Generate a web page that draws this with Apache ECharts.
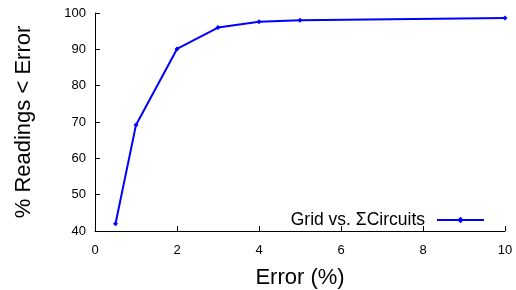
<!DOCTYPE html>
<html>
    <head>
        <meta charset="utf-8">
        <script src="https://cdn.jsdelivr.net/npm/echarts@6/dist/echarts.min.js"></script>
        <style type="text/css">
            #main {height:290px;width:516px;position:absolute;}
            body {margin:0px;padding:0px;overflow:hidden;background:#fff;}
        </style>
    </head>
    <body>
        <div id="main"></div>
        <script type="text/javascript">
            // data
            let errorPct = [0.5, 1, 2, 3, 4, 5, 10];
            let readingsPct = [42, 69.2, 90.1, 96, 97.6, 98, 98.6];
            let seriesName = 'Grid vs. \u03a3Circuits';

            let myChart = echarts.init(document.getElementById('main'));
            let font = 'Liberation Sans, Arial, Helvetica, sans-serif';

            let option = {
                animation: false,
                grid: {left: 95, right: 11, top: 13, bottom: 59, outerBoundsMode: 'none'},
                legend: {
                    data: [seriesName],
                    right: 26,
                    top: 206,
                    align: 'right',
                    itemWidth: 47,
                    itemHeight: 8,
                    itemGap: 10,
                    textStyle: {fontFamily: font, fontSize: 17.5, color: '#000', padding: [0, 7, 0, 0]}
                },
                xAxis: {
                    type: 'value',
                    min: 0,
                    max: 10,
                    interval: 2,
                    name: 'Error (%)',
                    nameLocation: 'center',
                    nameGap: 36,
                    nameTextStyle: {fontFamily: font, fontSize: 22, color: '#000'},
                    axisLine: {lineStyle: {color: '#000', width: 1}},
                    axisTick: {inside: true, length: 5, lineStyle: {color: '#000'}},
                    axisLabel: {fontFamily: font, fontSize: 13, color: '#000', margin: 13},
                    splitLine: {show: false}
                },
                yAxis: {
                    type: 'value',
                    min: 40,
                    max: 100,
                    interval: 10,
                    name: '% Readings < Error',
                    nameLocation: 'center',
                    nameGap: 60,
                    nameTextStyle: {fontFamily: font, fontSize: 22, color: '#000'},
                    axisLine: {show: true, lineStyle: {color: '#000', width: 1}},
                    axisTick: {show: true, inside: true, length: 5, lineStyle: {color: '#000'}},
                    axisLabel: {fontFamily: font, fontSize: 13, color: '#000', margin: 9},
                    splitLine: {show: false}
                },
                series: [{
                    name: seriesName,
                    type: 'line',
                    data: errorPct.map((x, i) => [x, readingsPct[i]]),
                    symbol: 'diamond',
                    symbolSize: 5,
                    showSymbol: true,
                    lineStyle: {color: '#0000ff', width: 2},
                    itemStyle: {color: '#0000ff'}
                }]
            };
            myChart.setOption(option);
            window.onresize = myChart.resize;
        </script>
    </body>
</html>
